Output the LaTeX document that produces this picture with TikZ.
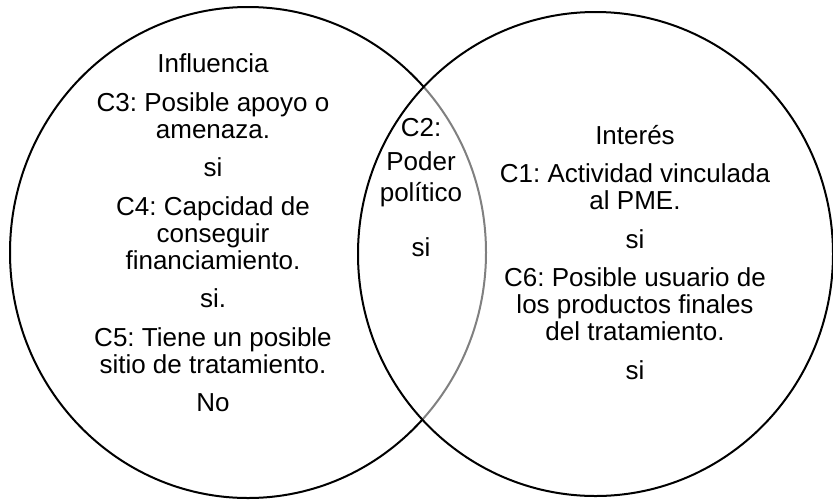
\documentclass[tikz,border=0pt]{standalone}
\usepackage{fontspec}
\setmainfont{Liberation Sans}
\frenchspacing
\begin{document}
\begin{tikzpicture}[x=1pt,y=-1pt,
  txt/.style={anchor=base, inner sep=0pt, font=\fontsize{26}{30}\selectfont},
  ring/.style={draw=black, line width=2pt}]
\useasboundingbox (0,0) rectangle (833,499);
% left circle (Influencia)
\draw[ring] (248,252.5) ellipse [x radius=238, y radius=245.5];
% right circle (Interés), semi-transparent white fill greys the left arc beneath it
\fill[white, opacity=0.5] (595.5,254) ellipse [x radius=237.5, y radius=242];
\draw[ring] (595.5,254) ellipse [x radius=237.5, y radius=242];
% left texts
\node[txt] (l1) at (213,72.7) {Influencia};
\node[txt] (l2) at (213,111.2) {C3: Posible apoyo o};
\node[txt] (l3) at (213,138.2) {amenaza.};
\node[txt] (l4) at (213,176.7) {si};
\node[txt] (l5) at (213,215.2) {C4: Capcidad de};
\node[txt] (l6) at (213,242.2) {conseguir};
\node[txt] (l7) at (213,269.2) {financiamiento.};
\node[txt] (l8) at (213,307.7) {si.};
\node[txt] (l9) at (213,346.2) {C5: Tiene un posible};
\node[txt] (l10) at (213,373.2) {sitio de tratamiento.};
\node[txt] (l11) at (213,411.7) {No};
% middle texts
\node[txt] (m1) at (421,136.7) {C2:};
\node[txt] (m2) at (421,170) {Poder};
\node[txt] (m3) at (421,201.7) {político};
\node[txt] (m4) at (421,256.7) {si};
% right texts
\node[txt] (r1) at (635,144) {Interés};
\node[txt] (r2) at (635,182.5) {C1: Actividad vinculada};
\node[txt] (r3) at (635,209.5) {al PME.};
\node[txt] (r4) at (635,248) {si};
\node[txt] (r5) at (635,286.5) {C6: Posible usuario de};
\node[txt] (r6) at (635,313.5) {los productos finales};
\node[txt] (r7) at (635,340.5) {del tratamiento.};
\node[txt] (r8) at (635,379) {si};
\end{tikzpicture}
\end{document}
